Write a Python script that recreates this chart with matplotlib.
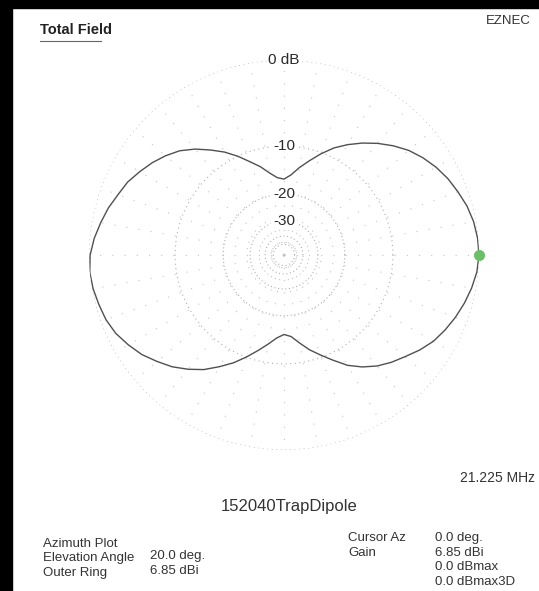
import numpy as np
import matplotlib
matplotlib.use("Agg")
import matplotlib.pyplot as plt
from matplotlib.patches import Rectangle

plt.rcParams['font.family'] = ['Liberation Sans', 'DejaVu Sans']

# ---- data (azimuth deg, gain dB relative to max) ----
azimuth_deg = list(range(0, 360, 5)) + [360]
gain_db = [
    0.0, -0.06, -0.22, -0.5, -0.9, -1.3, -1.8, -2.4, -3.1, -4.0,      # 0-45
    -5.0, -6.1, -7.3, -8.6, -10.2, -11.9, -13.5, -15.2, -16.2,       # 50-90
    -15.8, -14.6, -13.0, -11.6, -10.0, -8.5, -7.2, -5.9, -4.8,       # 95-135
    -4.0, -3.3, -2.7, -2.1, -1.7, -1.2, -0.8, -0.4, -0.1,            # 140-180
    0.0, -0.1, -0.3, -0.5, -0.85, -1.4, -2.0, -2.8, -3.6,            # 185-225
    -4.6, -5.7, -7.1, -8.5, -10.1, -11.7, -13.2, -14.6, -15.4,       # 230-270
    -14.9, -13.4, -11.8, -10.4, -8.9, -7.3, -6.1, -5.1, -4.3,        # 275-315
    -3.6, -2.8, -2.1, -1.6, -1.15, -0.75, -0.4, -0.12, 0.0,          # 320-360
]
ring_db = [0, -10, -20, -30, -40, -50]
ring_labels = ["0 dB", "-10", "-20", "-30"]
spoke_deg = list(range(0, 360, 10))
cursor_az = 0.0
cursor_db = 0.0

title = "Total Field"
program = "EZNEC"
freq = "21.225 MHz"
model = "152040TrapDipole"
left_labels = ["Azimuth Plot", "Elevation Angle", "Outer Ring"]
left_values = ["", "20.0 deg.", "6.85 dBi"]
right_labels = ["Cursor Az", "Gain", "", ""]
right_values = ["0.0 deg.", "6.85 dBi", "0.0 dBmax", "0.0 dBmax3D"]


def arrl(db):
    # ARRL log scale: radius factor 0.89 per 2 dB
    return 0.89 ** (-np.asarray(db, dtype=float) / 2.0)


W, H = 539, 591
fig = plt.figure(figsize=(W / 100, H / 100), dpi=100)
fig.patch.set_facecolor("white")

cx, cy, R = 284, 255, 195
ax = fig.add_axes([(cx - R) / W, 1 - (cy + R) / H, 2 * R / W, 2 * R / H],
                  projection="polar")
ax.set_ylim(0, 1)
ax.grid(False)
ax.set_xticks([])
ax.set_yticks([])
ax.spines["polar"].set_visible(False)
ax.patch.set_alpha(0)

th = np.linspace(0, 2 * np.pi, 721)
for d in ring_db:
    r = arrl(d)
    ls = (0, (0.9, 3.2)) if d in (0, -10) else (0, (0.9, 2.4))
    ax.plot(th, np.full_like(th, r), color="#a8a8a8", lw=0.8, ls=ls, zorder=1)

for s in spoke_deg:
    t = np.deg2rad(s)
    ax.plot([t, t], [0, 1], color="#c4c4c4", lw=0.8, ls=(0, (1, 10)), zorder=1)

ax.plot(np.deg2rad(azimuth_deg), arrl(gain_db), color="#505050", lw=1.0, zorder=3)
ax.plot(np.deg2rad(cursor_az), arrl(cursor_db), "o", color="#6cbf6a", ms=7,
        mec="#6cbf6a", zorder=4, clip_on=False)

for lab, d in zip(ring_labels, ring_db[:4]):
    ax.text(np.pi / 2, arrl(d), lab, ha="center", va="center", fontsize=11,
            color="#2a2a2a", zorder=5,
            bbox=dict(boxstyle="square,pad=0.1", fc="white", ec="none"))


def ftext(x, y, s, **kw):
    fig.text(x / W, 1 - y / H, s, **kw)


ftext(40, 30, title, fontsize=10.5, fontweight="bold", color="#222222",
      ha="left", va="center")
fig.add_artist(plt.Line2D([40 / W, 101 / W], [1 - 41 / H, 1 - 41 / H],
                          color="#666666", lw=0.8))
ftext(531, 21, program, fontsize=9.5, color="#333333", ha="right", va="center")
ftext(535, 478, freq, fontsize=10, color="#333333", ha="right", va="center")
ftext(289, 507, model, fontsize=12, color="#333333", ha="center", va="center")

for i, (l, v) in enumerate(zip(left_labels, left_values)):
    y = 544 + i * 14.5
    ftext(43, y, l, fontsize=9.5, color="#333333", ha="left", va="center")
    if v:
        ftext(150, y - 2, v, fontsize=9.5, color="#333333", ha="left", va="center")

for i, (l, v) in enumerate(zip(right_labels, right_values)):
    y = 538 + i * 14.7
    if l:
        ftext(348, y, l, fontsize=9.5, color="#333333", ha="left", va="center")
    ftext(435, y, v, fontsize=9.5, color="#333333", ha="left", va="center")

# scanned page black borders
fig.add_artist(Rectangle((0, 0), 12 / W, 1, transform=fig.transFigure,
                         color="black", zorder=10))
fig.add_artist(Rectangle((0, 1 - 8 / H), 1, 8 / H, transform=fig.transFigure,
                         color="black", zorder=10))

fig.savefig("out.png", dpi=100, facecolor="white")
